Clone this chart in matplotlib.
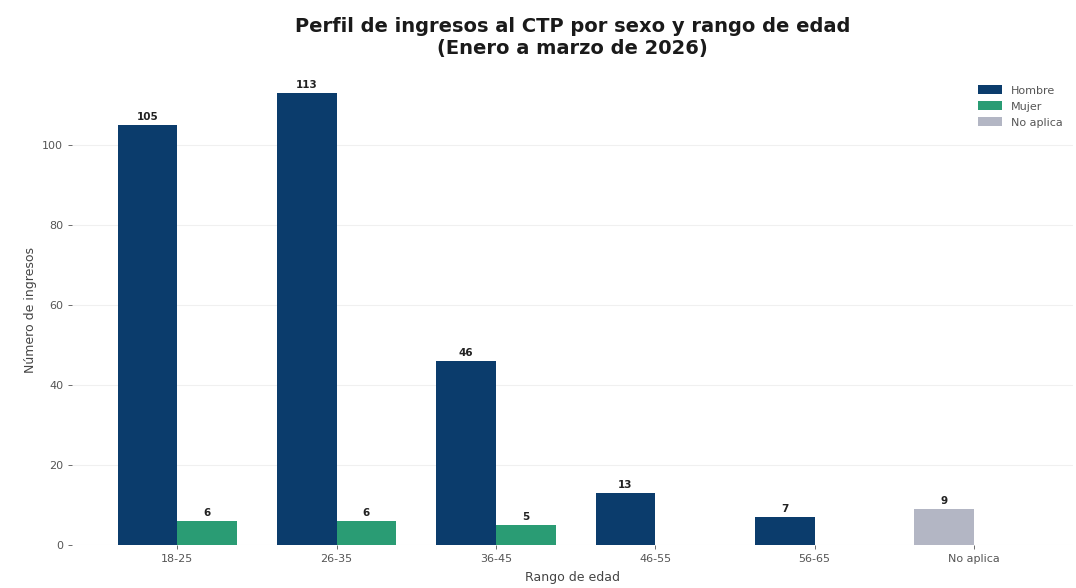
import numpy as np
import matplotlib
matplotlib.use("Agg")
import matplotlib.pyplot as plt

rangos = ["18-25", "26-35", "36-45", "46-55", "56-65", "No aplica"]
hombre = [105, 113, 46, 13, 7, 0]
mujer = [6, 6, 5, 0, 0, 0]
no_aplica = [0, 0, 0, 0, 0, 9]

col_h = "#0b3c6c"
col_m = "#2a9c74"
col_na = "#b3b6c4"

fig, ax = plt.subplots(figsize=(10.76, 5.88), dpi=100)
fig.subplots_adjust(left=0.067, right=0.997, bottom=0.073, top=0.872)

x = np.arange(len(rangos))
w = 0.375

# solo dibujar barras con valor
xh = [xi - w / 2 for xi, v in zip(x, hombre) if v > 0]
vh = [v for v in hombre if v > 0]
xm = [xi + w / 2 for xi, v in zip(x, mujer) if v > 0]
vm = [v for v in mujer if v > 0]
xn = [xi - w / 2 for xi, v in zip(x, no_aplica) if v > 0]
vn = [v for v in no_aplica if v > 0]

b1 = ax.bar(xh, vh, w, color=col_h, label="Hombre", zorder=3)
b2 = ax.bar(xm, vm, w, color=col_m, label="Mujer", zorder=3)
b3 = ax.bar(xn, vn, w, color=col_na, label="No aplica", zorder=3)

for b in (b1, b2, b3):
    ax.bar_label(b, padding=2, fontsize=7.5, fontweight="bold", color="#222222")

ax.set_xticks(x)
ax.set_xticklabels(rangos)
ax.set_xlim(-0.66, 5.62)
ax.set_ylim(0, 117.5)
ax.set_yticks([0, 20, 40, 60, 80, 100])
ax.tick_params(labelsize=8, colors="#555555", length=3, width=0.6)
ax.set_xlabel("Rango de edad", fontsize=9, color="#444444", labelpad=5)
ax.set_ylabel("Número de ingresos", fontsize=9, color="#444444")
ax.grid(axis="y", color="#f0f0f0", linewidth=0.8, zorder=0)
for s in ax.spines.values():
    s.set_visible(False)

ax.set_title("Perfil de ingresos al CTP por sexo y rango de edad\n(Enero a marzo de 2026)",
             fontsize=14, fontweight="bold", pad=15, color="#1a1a1a")
ax.legend(loc="upper right", frameon=False, fontsize=8, labelcolor="#555555",
          handlelength=2.2, handleheight=0.9)

fig.savefig("out.png", dpi=100)
